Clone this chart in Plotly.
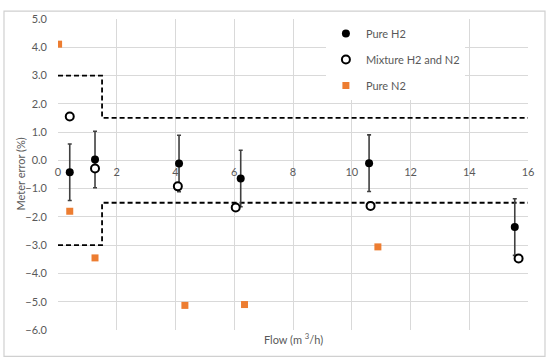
import plotly.graph_objects as go

# Pure H2 (filled circles with +/- error bars)
h2_flow = [0.40, 1.26, 4.12, 6.22, 10.59, 15.55]
h2_err = [-0.42, 0.03, -0.11, -0.64, -0.10, -2.36]
h2_unc = [1.0, 1.0, 1.0, 1.0, 1.0, 1.0]

# Mixture H2 and N2 (open circles)
mix_flow = [0.40, 1.26, 4.08, 6.05, 10.64, 15.68]
mix_err = [1.55, -0.29, -0.92, -1.67, -1.61, -3.47]

# Pure N2 (orange squares)
n2_flow = [0.02, 0.40, 1.26, 4.32, 6.35, 10.89]
n2_err = [4.11, -1.80, -3.45, -5.13, -5.10, -3.06]

# Maximum permissible error limits
limit_flow = [0, 1.5, 1.5, 16]
limit_upper = [3.0, 3.0, 1.5, 1.5]
limit_lower = [-3.0, -3.0, -1.5, -1.5]

x_ticks = [0, 2, 4, 6, 8, 10, 12, 14, 16]
y_ticks = [5, 4, 3, 2, 1, 0, -1, -2, -3, -4, -5, -6]

FONT = "Lato"
FS = 11
GREY = "#595959"
GRID = "#d9d9d9"

fig = go.Figure()

for yl in (limit_upper, limit_lower):
    fig.add_trace(go.Scatter(
        x=limit_flow, y=yl, mode="lines",
        line=dict(color="black", width=1.8, dash="5px,3px"),
        showlegend=False, hoverinfo="skip"))

fig.add_trace(go.Scatter(
    x=h2_flow, y=h2_err, mode="markers", name="Pure H2",
    legendgroup="a",
    marker=dict(symbol="circle", size=8, color="black"),
    error_y=dict(type="data", array=h2_unc, visible=True,
                 color="#404040", thickness=1.6, width=2)))

fig.add_trace(go.Scatter(
    x=mix_flow, y=mix_err, mode="markers", name="Mixture H2 and N2",
    legendgroup="b",
    marker=dict(symbol="circle", size=8, color="white",
                line=dict(color="black", width=2))))

fig.add_trace(go.Scatter(
    x=n2_flow, y=n2_err, mode="markers", name="Pure N2",
    legendgroup="c",
    marker=dict(symbol="square", size=7, color="#ED7D31")))

fig.update_layout(
    width=550, height=363,
    margin=dict(l=58, r=22, t=12, b=33),
    paper_bgcolor="white", plot_bgcolor="white",
    font=dict(family=FONT, size=FS, color=GREY),
    xaxis=dict(range=[0, 16], tickvals=x_ticks, showgrid=True,
               gridcolor=GRID, gridwidth=1, zeroline=False,
               showline=False, anchor="free", position=6 / 11,
               ticks="", ticklabelstandoff=4,
               tickfont=dict(family=FONT, size=FS, color=GREY)),
    yaxis=dict(range=[-6, 5], tickvals=y_ticks, tickformat=".1f",
               showgrid=True, gridcolor=GRID, gridwidth=1,
               zeroline=False, showline=False, ticks="",
               ticklabelstandoff=10,
               tickfont=dict(family=FONT, size=FS, color=GREY)),
    legend=dict(x=0.57, y=1.0, xanchor="left", yanchor="top",
                bgcolor="white", borderwidth=0,
                traceorder="grouped", tracegroupgap=7,
                font=dict(family=FONT, size=FS, color=GREY)),
    showlegend=True,
)

pw, ph = 470, 318

# axis titles
fig.add_annotation(text="Flow (m <sup>3</sup>/h)", xref="paper", yref="paper",
                   x=0.5, y=(330 - 339) / ph, xanchor="center", yanchor="middle",
                   showarrow=False, font=dict(family=FONT, size=FS, color=GREY))
fig.add_annotation(text="Meter error (%)", xref="paper", yref="paper",
                   x=(20 - 58) / pw, y=0.5, textangle=-90,
                   xanchor="center", yanchor="middle", showarrow=False,
                   font=dict(family=FONT, size=FS, color=GREY))

# outer chart border
fig.add_shape(type="rect", xref="paper", yref="paper",
              x0=(4 - 58) / pw, x1=(545 - 58) / pw,
              y0=(330 - 357) / ph, y1=(330 - 4) / ph,
              line=dict(color="#d0d0d0", width=1.2), layer="above")

fig.write_html("out.html", config={"displayModeBar": False},
               post_script="document.body.style.margin='0';document.body.style.padding='0';")
